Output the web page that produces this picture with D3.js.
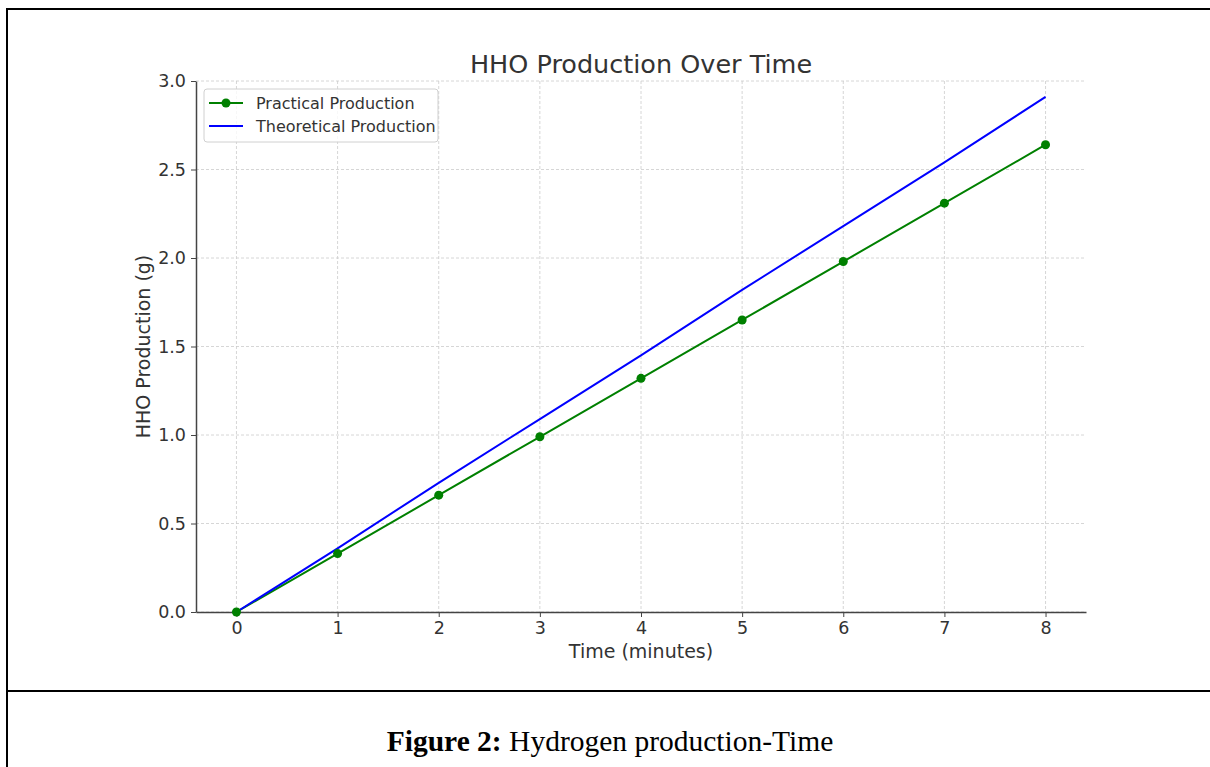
<!DOCTYPE html>
<html>
<head>
<meta charset="utf-8">
<script src="https://cdn.jsdelivr.net/npm/d3@7"></script>
<style>
  body { margin: 0; background: #fff; }
  svg { display: block; }
</style>
</head>
<body>
<svg id="container" width="1210" height="767"></svg>
<script>
// data
var timeMinutes = [0, 1, 2, 3, 4, 5, 6, 7, 8];
var practicalProduction = [0, 0.33, 0.66, 0.99, 1.32, 1.65, 1.98, 2.31, 2.64];
var theoreticalProduction = [0, 0.36, 0.73, 1.09, 1.45, 1.82, 2.18, 2.54, 2.91];
var xTicks = [0, 1, 2, 3, 4, 5, 6, 7, 8];
var yTicks = [0, 0.5, 1.0, 1.5, 2.0, 2.5, 3.0];
var seriesNames = ["Practical Production", "Theoretical Production"];

const svg = d3.select('#container');
const W = 1210, H = 767;
const plot = { left: 196, right: 1086, top: 81, bottom: 612 };

// outer frame (table cell look)
svg.append("line").attr("x1", 6).attr("x2", W).attr("y1", 9).attr("y2", 9)
    .attr("stroke", "#000").attr("stroke-width", 2);
svg.append("line").attr("x1", 7).attr("x2", 7).attr("y1", 8).attr("y2", H)
    .attr("stroke", "#000").attr("stroke-width", 2);
svg.append("line").attr("x1", 6).attr("x2", W).attr("y1", 691).attr("y2", 691)
    .attr("stroke", "#000").attr("stroke-width", 2);

var x = d3.scaleLinear().domain([-0.4, 8.4]).range([plot.left, plot.right]);
var y = d3.scaleLinear().domain([0, 3.0]).range([plot.bottom, plot.top]);

// grid
const grid = svg.append("g").attr("stroke", "#cccccc").attr("stroke-width", 0.8)
    .attr("stroke-dasharray", "3,2");
grid.selectAll("line.gx").data(xTicks).join("line").attr("class", "gx")
    .attr("x1", d => x(d)).attr("x2", d => x(d)).attr("y1", plot.top).attr("y2", plot.bottom);
grid.selectAll("line.gy").data(yTicks).join("line").attr("class", "gy")
    .attr("x1", plot.left).attr("x2", plot.right).attr("y1", d => y(d)).attr("y2", d => y(d));

// axes (only left and bottom spines)
const xAxis = svg.append("g").attr("transform", `translate(0,${plot.bottom})`)
    .call(d3.axisBottom(x).tickValues(xTicks).tickFormat(d3.format("d")).tickSize(5).tickSizeOuter(0).tickPadding(5));
const yAxis = svg.append("g").attr("transform", `translate(${plot.left},0)`)
    .call(d3.axisLeft(y).tickValues(yTicks).tickFormat(d3.format(".1f")).tickSize(5).tickSizeOuter(0).tickPadding(5));
[xAxis, yAxis].forEach(a => {
    a.select(".domain").attr("stroke", "#444").attr("stroke-width", 1.5);
    a.selectAll(".tick line").attr("stroke", "#444").attr("stroke-width", 1);
    a.selectAll(".tick text").attr("fill", "#333").attr("font-family", "DejaVu Sans").attr("font-size", 17.5);
});

// lines
const line = d3.line().x((d, i) => x(timeMinutes[i])).y(d => y(d));
svg.append("path").datum(practicalProduction).attr("d", line)
    .attr("fill", "none").attr("stroke", "green").attr("stroke-width", 2);
svg.append("path").datum(theoreticalProduction).attr("d", line)
    .attr("fill", "none").attr("stroke", "blue").attr("stroke-width", 2);
svg.append("g").selectAll("circle").data(practicalProduction).join("circle")
    .attr("cx", (d, i) => x(timeMinutes[i])).attr("cy", d => y(d)).attr("r", 4.5).attr("fill", "green");

// title and axis labels
svg.append("text").attr("x", (plot.left + plot.right) / 2).attr("y", 73).attr("text-anchor", "middle")
    .attr("font-family", "DejaVu Sans").attr("font-size", 25.5).attr("fill", "#333").text("HHO Production Over Time");
svg.append("text").attr("x", (plot.left + plot.right) / 2).attr("y", 658).attr("text-anchor", "middle")
    .attr("font-family", "DejaVu Sans").attr("font-size", 19).attr("fill", "#333").text("Time (minutes)");
svg.append("text").attr("transform", `translate(150,${(plot.top + plot.bottom) / 2}) rotate(-90)`)
    .attr("text-anchor", "middle").attr("font-family", "DejaVu Sans").attr("font-size", 19).attr("fill", "#333")
    .text("HHO Production (g)");

// legend
const legend = svg.append("g").attr("transform", "translate(204,89)");
legend.append("rect").attr("width", 234).attr("height", 53).attr("rx", 3)
    .attr("fill", "#fff").attr("fill-opacity", 0.8).attr("stroke", "#d0d0d0");
const legendColors = ["green", "blue"];
seriesNames.forEach((name, i) => {
    const ly = 14 + i * 23;
    legend.append("line").attr("x1", 5).attr("x2", 39).attr("y1", ly).attr("y2", ly)
        .attr("stroke", legendColors[i]).attr("stroke-width", 2);
    if (i === 0) legend.append("circle").attr("cx", 22).attr("cy", ly).attr("r", 4.5).attr("fill", "green");
    legend.append("text").attr("x", 52).attr("y", ly + 5.5).attr("font-family", "DejaVu Sans")
        .attr("font-size", 16).attr("fill", "#333").text(name);
});

// caption
const cap = svg.append("text").attr("x", 610).attr("y", 751).attr("text-anchor", "middle")
    .attr("font-family", "Liberation Serif").attr("font-size", 29.5).attr("fill", "#000");
cap.append("tspan").attr("font-weight", "bold").text("Figure 2:");
cap.append("tspan").text(" Hydrogen production-Time");
</script>
</body>
</html>
